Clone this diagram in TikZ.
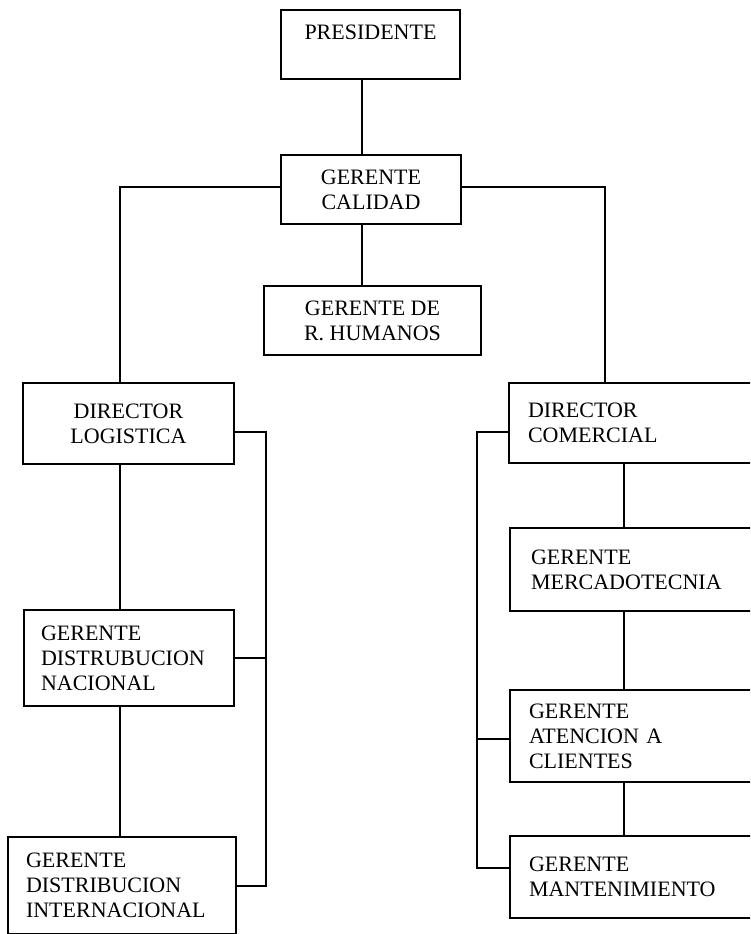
\documentclass[tikz,border=0pt]{standalone}
\usepackage{fontspec}
\setmainfont{Liberation Serif}
\usetikzlibrary{positioning,calc}

\begin{document}
\begin{tikzpicture}[x = 1pt, y = -1pt,
  orgbox/.style = {draw = black, line width = 2pt, rectangle, anchor = north west, inner ysep = 0pt,
    font = \fontsize{22}{25}\selectfont},
  midbox/.style = {orgbox, align = center},
  leftbox/.style 2 args = {orgbox, align = left, inner xsep = #2, text width = #1 - 2*#2},
  link/.style = {line width = 2pt}]
\clip (0,0) rectangle (750,934);
\node[midbox, minimum width = 179pt, minimum height = 69pt] (pres) at (280,9) {PRESIDENTE\\\mbox{}};
\node[midbox, minimum width = 180pt, minimum height = 69pt] (calidad) at (280,154) {GERENTE\\CALIDAD};
\node[midbox, minimum width = 217pt, minimum height = 69pt] (humanos) at (263,285) {GERENTE DE\\R. HUMANOS};
\node[midbox, minimum width = 211pt, minimum height = 81pt] (logistica) at (22,382) {DIRECTOR\\LOGISTICA};
\node[leftbox = {210pt}{17pt}, minimum height = 96pt] (nacional) at (23,609) {GERENTE\\DISTRUBUCION\\NACIONAL};
\node[leftbox = {228pt}{18pt}, minimum height = 97pt] (internacional) at (7,836) {GERENTE\\DISTRIBUCION\\INTERNACIONAL};
\node[leftbox = {252pt}{19pt}, minimum height = 80pt] (comercial) at (508,382) {DIRECTOR\\COMERCIAL};
\node[leftbox = {251pt}{21pt}, minimum height = 83pt] (mercado) at (509,527) {GERENTE\\MERCADOTECNIA};
\node[leftbox = {251pt}{19pt}, minimum height = 92pt] (atencion) at (509,689) {GERENTE\\ATENCION A\\CLIENTES};
\node[leftbox = {251pt}{19pt}, minimum height = 82pt] (manten) at (509,835) {GERENTE\\MANTENIMIENTO};
\coordinate (cspine) at (362,0);
\coordinate (lspine) at (120,0);
\coordinate (rspine) at (624,0);
\coordinate (lbar) at (266,0);
\coordinate (rbar) at (477,0);
\coordinate (rdrop) at (605,0);
\draw[link] (pres.south -| cspine) -- (calidad.north -| cspine);
\draw[link] (calidad.south -| cspine) -- (humanos.north -| cspine);
\draw[link] ([yshift=3pt]calidad.west) -| (logistica.north -| lspine);
\draw[link] ([yshift=3pt]calidad.east) -| (comercial.north -| rdrop);
\draw[link] (logistica.south -| lspine) -- (nacional.north -| lspine);
\draw[link] (nacional.south -| lspine) -- (internacional.north -| lspine);
\draw[link] ([yshift=-8pt]logistica.east) -- ([yshift=-8pt]logistica.east -| lbar) -- (internacional.east -| lbar) -- (internacional.east);
\draw[link] (nacional.east) -- (nacional.east -| lbar);
\draw[link] (comercial.south -| rspine) -- (mercado.north -| rspine);
\draw[link] (mercado.south -| rspine) -- (atencion.north -| rspine);
\draw[link] (atencion.south -| rspine) -- (manten.north -| rspine);
\draw[link] ([yshift=-9pt]comercial.west) -- ([yshift=-9pt]comercial.west -| rbar) -- ([yshift=9pt]manten.west -| rbar) -- ([yshift=9pt]manten.west);
\draw[link] ([yshift=-3pt]atencion.west) -- ([yshift=-3pt]atencion.west -| rbar);
\end{tikzpicture}
\end{document}
